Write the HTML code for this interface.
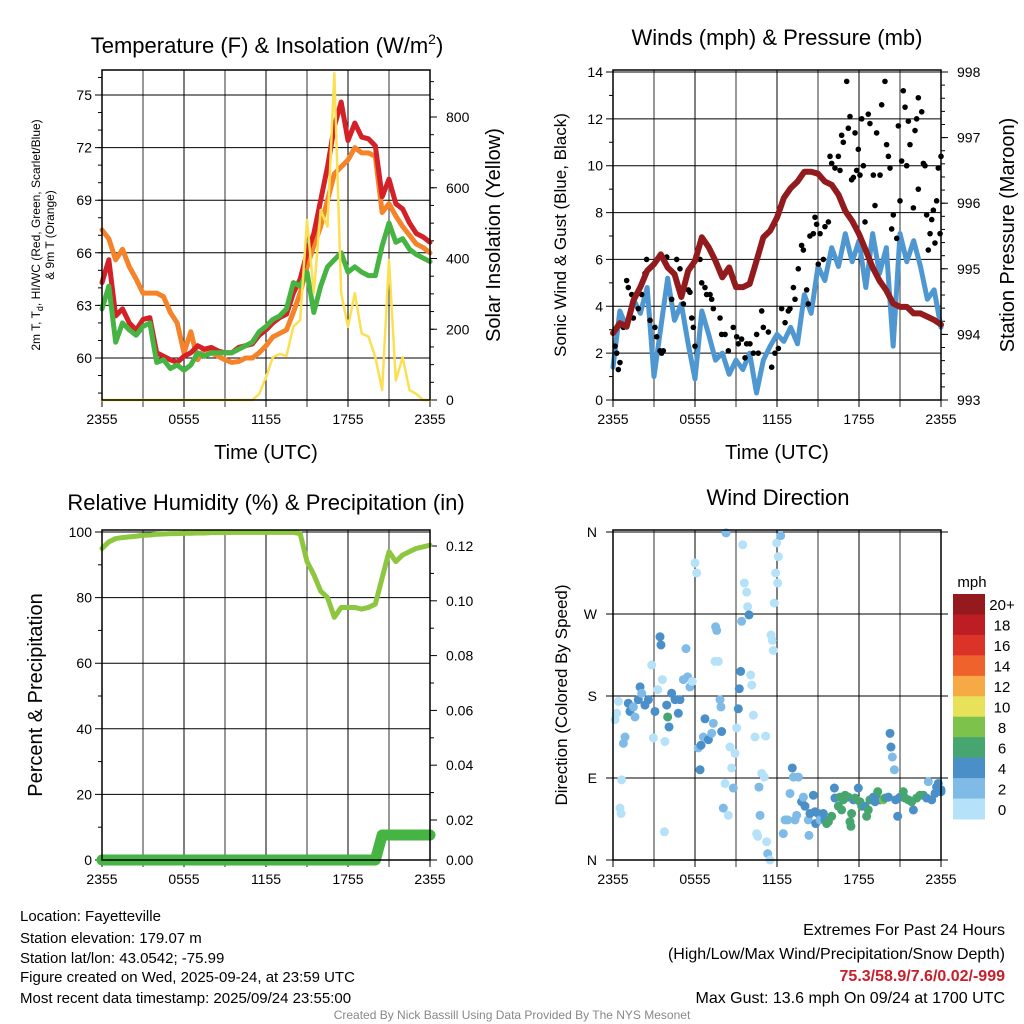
<!DOCTYPE html>
<html><head><meta charset="utf-8"><style>
html,body{margin:0;padding:0;background:#fff}
svg{display:block;font-family:"Liberation Sans",Arial,sans-serif}
</style></head><body>
<svg id="c" width="1024" height="1024" viewBox="0 0 1024 1024" xmlns="http://www.w3.org/2000/svg">
<g id="static">
<text x="267" y="53" font-size="22" text-anchor="middle">Temperature (F) &amp; Insolation (W/m<tspan dy="-9" font-size="14">2</tspan><tspan dy="9">)</tspan></text>
<text x="777" y="45" font-size="22" text-anchor="middle">Winds (mph) &amp; Pressure (mb)</text>
<text x="266" y="510" font-size="22" text-anchor="middle">Relative Humidity (%) &amp; Precipitation (in)</text>
<text x="778" y="505" font-size="22" text-anchor="middle">Wind Direction</text>
<text transform="translate(40,235) rotate(-90)" font-size="12" text-anchor="middle">2m T, T<tspan font-size="9" dy="3">d</tspan><tspan dy="-3">, HI/WC (Red, Green, Scarlet/Blue)</tspan></text>
<text transform="translate(54,235) rotate(-90)" font-size="12" text-anchor="middle">&amp; 9m T (Orange)</text>
<text transform="translate(500,235) rotate(-90)" font-size="20" text-anchor="middle">Solar Insolation (Yellow)</text>
<text x="266" y="459" font-size="20" text-anchor="middle">Time (UTC)</text>
<text x="777" y="459" font-size="20" text-anchor="middle">Time (UTC)</text>
<text transform="translate(566,235) rotate(-90)" font-size="17" text-anchor="middle">Sonic Wind &amp; Gust (Blue, Black)</text>
<text transform="translate(1014,235) rotate(-90)" font-size="20" text-anchor="middle">Station Pressure (Maroon)</text>
<text transform="translate(42,695) rotate(-90)" font-size="20" text-anchor="middle">Percent &amp; Precipitation</text>
<text transform="translate(567,695) rotate(-90)" font-size="17" text-anchor="middle">Direction (Colored By Speed)</text>
<text x="972" y="587" font-size="15" text-anchor="middle">mph</text>
<g font-size="15">
<text x="20" y="921">Location: Fayetteville</text>
<text x="20" y="943">Station elevation: 179.07 m</text>
<text x="20" y="963">Station lat/lon: 43.0542; -75.99</text>
<text x="20" y="982">Figure created on Wed, 2025-09-24, at 23:59 UTC</text>
<text x="20" y="1003">Most recent data timestamp: 2025/09/24 23:55:00</text>
</g>
<g font-size="16" text-anchor="end">
<text x="1005" y="935">Extremes For Past 24 Hours</text>
<text x="1005" y="959">(High/Low/Max Wind/Precipitation/Snow Depth)</text>
<text x="1005" y="981" fill="#c8202a" font-weight="bold">75.3/58.9/7.6/0.02/-999</text>
<text x="1005" y="1003">Max Gust: 13.6 mph On 09/24 at 1700 UTC</text>
</g>
<text x="512" y="1019" font-size="12" fill="#888" text-anchor="middle">Created By Nick Bassill Using Data Provided By The NYS Mesonet</text>
</g>
</svg>
<script>
// ---- data (times in hours since 2355 UTC, 30-min steps for lines) ----
const xTickLabels = ["2355","0555","1155","1755","2355"];
const tempRed = [64.3,65.6,62.4,62.8,62.0,61.6,62.2,62.3,60.3,60.1,59.9,59.75,60.1,60.3,60.7,60.5,60.6,60.4,60.3,60.3,60.6,60.7,60.8,61.3,61.6,62.0,62.3,62.5,63.7,64.5,66.0,67.1,69.0,70.9,73.2,74.6,72.4,73.4,72.6,72.5,72.1,69.2,70.2,68.8,68.5,67.7,67.1,66.9,66.6];
const tempOrange = [67.3,66.8,65.6,66.2,65.2,64.5,63.7,63.7,63.7,63.5,62.6,62.0,60.3,61.5,59.9,60.5,60.3,60.1,59.9,59.75,59.8,60.0,60.0,60.3,60.7,61.2,61.4,61.6,62.6,63.7,65.2,66.4,67.5,69.0,70.5,70.9,71.3,72.0,71.7,71.7,71.5,68.3,68.8,68.1,67.5,67.0,66.5,66.3,66.0];
const tempGreen = [62.8,64.1,60.9,62.0,61.6,61.3,61.8,62.0,59.75,59.9,59.4,59.6,59.3,59.6,60.3,60.1,60.3,60.3,60.3,60.3,60.5,60.7,60.9,61.5,61.8,62.2,62.4,62.8,64.3,64.1,64.9,62.6,64.1,65.2,65.6,66.0,64.9,65.2,64.9,64.7,64.7,66.4,67.7,66.6,66.8,66.2,65.9,65.7,65.5];
const solar = [0,0,0,0,0,0,0,0,0,0,0,0,0,0,0,0,0,0,0,0,0,0,0,17,64,121,130,125,207,226,509,302,537,490,924,302,207,302,188,179,121,28,396,55,121,28,17,0,0];
const tempTicks = [60,63,66,69,72,75];
const solarTicks = [0,200,400,600,800];

const windSpeed = [1.4,3.8,3.1,4.3,3.7,4.8,1.0,3.1,5.2,3.4,4.1,2.4,0.9,3.8,2.8,1.7,2.0,1.1,1.7,1.3,2.0,0.3,1.7,2.3,2.8,2.5,3.1,2.4,4.5,3.7,5.7,5.1,6.5,5.7,7.1,5.9,6.8,4.8,7.1,5.4,6.5,2.3,7.1,5.9,6.8,5.7,4.3,4.7,3.1];
const pressure = [994.02,994.17,994.12,994.52,994.72,994.97,995.07,995.22,995.02,994.92,994.57,994.97,995.12,995.48,995.33,995.12,994.87,995.02,994.72,994.72,994.77,995.12,995.48,995.58,995.78,996.08,996.23,996.33,996.48,996.48,996.45,996.33,996.28,996.13,995.88,995.73,995.53,995.28,995.02,994.82,994.67,994.47,994.42,994.42,994.32,994.32,994.27,994.22,994.15];
const gustHours = [0.15,0.27,0.39,0.51,0.76,1.0,1.12,1.37,1.49,1.85,2.1,2.34,2.46,2.71,3.07,3.2,3.44,3.56,3.68,3.93,4.29,4.66,4.9,5.15,5.51,5.63,5.76,5.88,6.0,6.37,6.49,6.73,6.85,7.1,7.22,7.34,7.83,7.95,8.2,8.44,8.8,9.05,9.17,9.41,9.66,9.78,10.02,10.27,10.51,10.63,10.88,11.0,11.37,11.61,11.85,12.1,12.34,12.59,12.83,12.95,13.2,13.32,13.56,13.8,13.93,14.17,14.29,14.41,14.66,14.78,14.9,15.02,15.15,15.39,15.51,15.76,15.88,16.0,16.24,16.49,16.61,16.73,16.85,17.1,17.22,17.34,17.46,17.59,17.71,17.83,17.95,18.07,18.2,18.32,18.44,18.68,18.8,19.05,19.17,19.29,19.54,19.66,19.9,20.02,20.15,20.27,20.39,20.51,20.76,20.88,21.0,21.12,21.24,21.37,21.49,21.61,21.73,21.98,22.1,22.22,22.34,22.59,22.71,22.83,22.95,23.07,23.32,23.44,23.56,23.68,23.8,23.93,24.0,22.34,23.2];
const gustMph = [2.3,2.0,1.3,1.6,3.1,5.1,4.8,4.5,3.5,3.9,4.5,5.4,6.0,3.4,3.1,2.7,2.1,2.0,2.1,6.1,4.3,6.0,5.6,4.1,4.7,4.6,3.5,3.1,2.3,6.0,5.0,4.8,4.5,4.5,4.3,3.9,3.5,2.8,2.8,2.1,3.1,2.7,2.4,2.6,1.8,2.4,2.4,2.0,2.8,2.0,3.8,3.1,2.9,1.4,2.0,2.2,3.9,3.3,3.8,3.9,4.8,4.3,5.6,6.6,6.4,4.7,4.1,7.0,7.1,7.8,7.5,5.8,7.1,6.0,7.4,7.6,10.4,10.1,9.9,10.4,9.8,11.3,11.0,13.6,11.6,12.1,9.4,9.5,11.4,9.8,10.7,9.6,12.0,10.0,7.6,12.2,11.8,9.6,8.3,11.4,9.6,12.6,13.6,10.9,10.4,9.9,7.3,7.9,6.9,11.7,8.5,10.2,13.2,12.5,10.0,11.9,10.9,8.2,11.5,12.0,12.9,12.3,10.1,10.0,7.9,6.4,7.7,8.1,6.7,8.5,9.9,7.1,10.4,9.0,7.1];
const windTicks = [0,2,4,6,8,10,12,14];
const pressTicks = [993,994,995,996,997,998];

const rh = [95,97,98,98.3,98.5,98.7,99,99.1,99.3,99.4,99.5,99.5,99.6,99.6,99.7,99.7,99.8,99.8,99.8,99.9,99.9,99.9,99.9,99.9,99.9,99.9,99.9,99.9,99.9,99.5,91,87,82,80,74,77,77,77,76.5,77,78,86,94,91,93,94,95,95.5,96];
const precip = [0,0,0,0,0,0,0,0,0,0,0,0,0,0,0,0,0,0,0,0,0,0,0,0,0,0,0,0,0,0,0,0,0,0,0,0,0,0,0,0,0,0.0125,0.0125,0.0125,0.0125,0.0125,0.0125,0.0125,0.0125];
const rhTicks = [0,20,40,60,80,100];
const precipTicks = ["0.02","0.04","0.06","0.08","0.10","0.12"];

const dirHours = [0.4,0.15,0.27,0.63,0.51,0.59,0.88,0.76,1.12,1.24,1.49,1.61,1.85,1.98,2.1,2.34,2.59,2.83,2.95,3.07,3.27,3.44,3.51,3.61,3.8,3.76,3.93,4.0,4.1,4.29,4.54,4.78,4.9,5.15,5.34,5.46,5.63,5.8,6.0,6.12,6.24,6.37,6.44,6.61,6.73,6.98,7.22,7.34,7.51,7.59,7.46,7.71,7.83,7.9,7.95,8.07,8.2,8.27,8.44,8.56,8.68,8.8,8.93,9.05,9.17,9.24,9.34,9.41,9.49,9.61,9.78,9.85,9.95,10.07,10.15,10.27,10.39,10.51,10.59,10.68,10.76,10.88,11.07,11.17,11.24,11.32,11.49,11.56,11.66,11.73,11.8,11.9,12.05,12.1,11.98,12.27,
12.46,12.59,12.78,12.95,13.12,13.2,13.32,13.44,13.56,13.8,13.93,14.05,14.29,14.34,14.41,14.66,14.78,14.83,15.02,15.15,15.39,15.51,15.63,15.76,16.0,16.2,16.24,16.49,16.61,16.73,16.85,16.98,17.22,17.34,17.41,17.46,17.59,17.71,17.95,18.07,18.2,18.44,18.56,18.68,18.8,19.05,19.17,19.37,19.54,19.78,19.9,20.15,20.27,20.34,20.44,20.59,20.68,20.83,21.0,21.24,21.37,21.61,21.85,21.98,22.22,22.46,22.71,22.95,23.07,23.32,23.56,23.68,23.8,24.0,24.0];
const dirDeg = [174,154,161,88,57,51,135,128,172,163,168,157,176,190,183,170,176,214,134,163,187,245,236,198,130,31,170,157,146,183,176,161,176,198,232,201,190,196,326,315,123,99,126,135,155,132,139,150,256,252,218,218,176,168,141,57,84,359,49,124,101,79,117,145,166,188,207,262,346,304,294,278,269,203,192,159,135,29,26,80,49,95,91,136,20,7,0,247,241,230,282,315,304,333,348,356,
29,44,44,73,101,91,44,49,91,64,69,59,44,27,51,71,53,40,51,44,51,44,40,42,48,79,68,59,69,55,66,71,69,42,37,51,66,68,79,64,59,59,48,55,66,69,64,75,66,66,68,69,139,124,113,99,66,48,69,75,68,66,64,55,68,71,71,68,86,66,73,80,84,77,75];
const dirSpeed = [1,1,1,1,1,1,3,3,5,5,3,3,5,5,3,5,5,1,1,5,1,5,5,1,1,1,5,7,5,5,5,5,5,3,3,3,3,1,1,1,3,5,5,3,5,5,3,3,3,3,1,1,3,3,5,3,1,3,1,1,1,3,1,1,5,5,5,3,1,1,1,1,5,1,1,1,1,1,1,3,3,1,1,1,1,3,1,1,1,1,1,1,1,1,1,3,
3,3,3,3,5,3,3,3,3,5,3,5,3,3,5,5,5,5,5,3,5,5,7,7,7,5,5,7,7,7,7,7,7,7,7,7,5,7,5,7,7,5,7,7,7,5,5,7,5,9,7,5,5,5,3,3,5,5,5,7,7,7,7,5,7,7,7,5,3,5,5,5,5,5,5];
const cbLabels = ["20+","18","16","14","12","10","8","6","4","2","0"];
const cbColors = ["#951a1d","#bd1e24","#dc3328","#f0622c","#f6a944","#e8e15a","#7cc24b","#47a56f","#4a8fc7","#7fbbe6","#b5e2f8"];

// ---- drawing ----
const svg = document.getElementById('c');
const NS = 'http://www.w3.org/2000/svg';
function mk(tag, attrs, parent) {
  const e = document.createElementNS(NS, tag);
  for (const k in attrs) e.setAttribute(k, attrs[k]);
  (parent || svg).appendChild(e);
  return e;
}
function scale(d0, d1, r0, r1) { return v => r0 + (v - d0) * (r1 - r0) / (d1 - d0); }

function frame(px, py, w, h, name) {
  const g = mk('g', {});
  
  
  const xs = scale(0, 24, px, px + w);
  for (let t = 0; t <= 24; t += 3) {
    const x = xs(t);
    const l = mk('line', {x1: x, y1: py, x2: x, y2: py + h + 7, stroke: t % 6 ? '#555' : '#000', 'stroke-width': t % 6 ? 1.2 : 1}, g);
    
    
  }
  xTickLabels.forEach((s, i) => {
    const tx = mk('text', {x: xs(i * 6), y: py + h + 24, 'font-size': 14, 'text-anchor': 'middle'}, g);
    
    
    tx.textContent = s;
  });
  return {g, xs};
}
function hgrid(g, px, w, y, left, right) {
  const l = mk('line', {x1: px - (left ? 7 : 0), y1: y, x2: px + w + (right ? 7 : 0), y2: y, stroke: '#000', 'stroke-width': 1}, g);
  
  
}
function label(g, x, y, s, anchor, name) {
  const t = mk('text', {x, y: y + 5, 'font-size': 14, 'text-anchor': anchor}, g);
  
  
  t.textContent = s;
}
function poly(g, xs, ys, arr, color, width, name) {
  const pts = arr.map((v, i) => xs(i / 2) + ',' + ys(v)).join(' ');
  const p = mk('polyline', {points: pts, fill: 'none', stroke: color, 'stroke-width': width, 'stroke-linejoin': 'round', 'stroke-linecap': 'round'}, g);
  
  
  return p;
}
function border(g, px, py, w, h) {
  const r = mk('rect', {x: px, y: py, width: w, height: h, fill: 'none', stroke: '#000', 'stroke-width': 1.5}, g);
  
  
}
function minor(g, x, y, dir) {
  const l = mk('line', {x1: x, y1: y, x2: x + dir * 4, y2: y, stroke: '#000', 'stroke-width': 1}, g);
  
  
}
function rtick(g, x, y, s, name) {
  const l = mk('line', {x1: x, y1: y, x2: x + 7, y2: y, stroke: '#000'}, g);
  
  
  label(g, x + 16, y, s, 'start', name + '-label');
}

// Panel 1
(function () {
  const px = 102, py = 70, w = 328, h = 330;
  const {g, xs} = frame(px, py, w, h, 'temperature-panel');
  const yT = scale(60, 75, 358, 95);
  const yS = scale(0, 800, 400, 117);
  tempTicks.forEach(v => { hgrid(g, px, w, yT(v), true, false); label(g, px - 10, yT(v), String(v), 'end', 'temp-tick-label'); });
  for (let v = 58; v <= 76; v++) if (yT(v) > py && yT(v) < py + h) minor(g, px, yT(v), -1);
  solarTicks.forEach(v => rtick(g, px + w, yS(v), String(v), 'solar-tick'));
  for (let v = 0; v <= 900; v += 50) if (yS(v) > py) minor(g, px + w, yS(v), 1);
  poly(g, xs, yT, tempOrange, '#f5832a', 5, 'temp-9m-orange-line');
  poly(g, xs, yT, tempRed, '#d42027', 5, 'temp-2m-red-line');
  poly(g, xs, yT, tempGreen, '#46b443', 5, 'dewpoint-green-line');
  poly(g, xs, yS, solar, '#fbe053', 2.5, 'solar-yellow-line');
  border(g, px, py, w, h);
})();

// Panel 2
(function () {
  const px = 613, py = 70, w = 328, h = 330;
  const {g, xs} = frame(px, py, w, h, 'wind-panel');
  const yW = scale(0, 14, 400, 72);
  const yP = scale(993, 998, 400, 72);
  windTicks.forEach(v => { hgrid(g, px, w, yW(v), true, false); label(g, px - 10, yW(v), String(v), 'end', 'wind-tick-label'); });
  for (let v = 1; v < 14; v += 2) minor(g, px, yW(v), -1);
  pressTicks.forEach(v => rtick(g, px + w, yP(v), String(v), 'pressure-tick'));
  for (let v = 993; v < 998; v += 0.2) minor(g, px + w, yP(v), 1);
  poly(g, xs, yW, windSpeed, '#4f97d1', 5, 'sonic-wind-blue-line');
  gustHours.forEach((t, i) => {
    const c = mk('circle', {cx: xs(t), cy: yW(gustMph[i]), r: 2.8, fill: '#000'}, g);
    
    
  });
  poly(g, xs, yP, pressure, '#921b1e', 6, 'pressure-maroon-line');
  border(g, px, py, w, h);
})();

// Panel 3
(function () {
  const px = 102, py = 530, w = 328, h = 330;
  const {g, xs} = frame(px, py, w, h, 'humidity-panel');
  const yR = scale(0, 100, 860, 532);
  const yPr = scale(0, 0.02, 860, 820);
  const yPl = scale(0.02, 0.12, 820, 546);
  rhTicks.forEach(v => { hgrid(g, px, w, yR(v), true, false); label(g, px - 10, yR(v), String(v), 'end', 'rh-tick-label'); });
  for (let v = 10; v < 100; v += 20) minor(g, px, yR(v), -1);
  rtick(g, px + w, 860, "0.00", 'precip-tick');
  precipTicks.forEach(s => rtick(g, px + w, yPl(parseFloat(s)), s, 'precip-tick'));
  for (let v = 0.03; v < 0.13; v += 0.02) minor(g, px + w, yPl(v), 1);
  poly(g, xs, yR, rh, '#8dc63f', 5, 'rh-line');
  poly(g, xs, yPr, precip, '#46b443', 11, 'precip-line');
  border(g, px, py, w, h);
})();

// Panel 4
(function () {
  const px = 613, py = 530, w = 328, h = 330;
  const {g, xs} = frame(px, py, w, h, 'direction-panel');
  const yD = scale(0, 360, 860, 532);
  ["N","E","S","W","N"].forEach((s, i) => { hgrid(g, px, w, yD(i * 90), true, true); label(g, px - 16, yD(i * 90), s, 'end', 'direction-tick-label'); });
  const n = Math.min(dirHours.length, dirDeg.length, dirSpeed.length);
  for (let i = 0; i < n; i++) {
    const bin = Math.min(10, Math.floor(dirSpeed[i] / 2));
    const c = mk('circle', {cx: xs(dirHours[i]), cy: yD(dirDeg[i]), r: 4.5, fill: cbColors[10 - bin]}, g);
    
    
  }
  border(g, px, py, w, h);
  const cb = mk('g', {});
  
  
  const bh = 225 / cbColors.length;
  cbColors.forEach((col, i) => {
    const r = mk('rect', {x: 953, y: 594 + i * bh, width: 32, height: bh + 0.5, fill: col}, cb);
    
    
    const t = mk('text', {x: 1002, y: 594 + i * bh + bh / 2 + 6, 'font-size': 15, 'text-anchor': 'middle'}, cb);
    
    
    t.textContent = cbLabels[i];
  });
})();
</script>
</body></html>
